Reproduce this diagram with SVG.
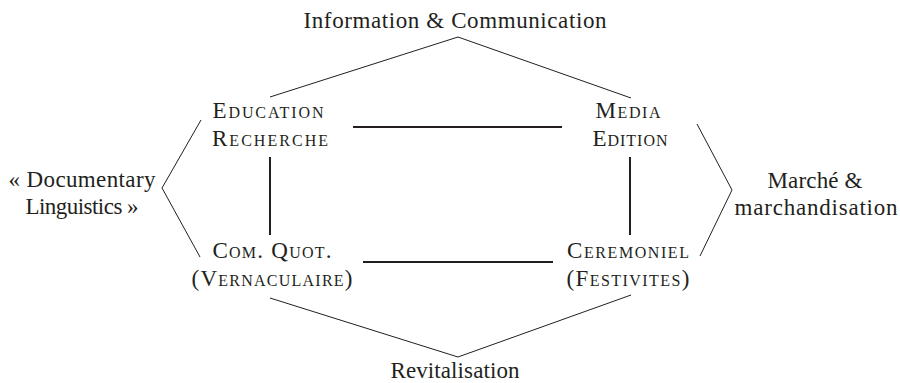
<svg xmlns="http://www.w3.org/2000/svg" width="900" height="383" viewBox="0 0 900 383">
<style>
text{font-family:"Liberation Serif","Times New Roman",serif;fill:#231f20;text-anchor:middle;font-size:23px}
.sc{font-variant:small-caps}
.thin{stroke:#231f20;stroke-width:1;fill:none}
.thick{stroke:#231f20;stroke-width:2;fill:none}
</style>
<rect width="900" height="383" fill="#fff"/>
<g id="connectors">
<polyline class="thin" points="270,97 458,37 631,98"/>
<polyline class="thin" points="270,298 458,357 631,295"/>
<polyline class="thin" points="201,120 162,188 200,257"/>
<polyline class="thin" points="697,124 732,190 700,256"/>
<line class="thick" x1="353" y1="127" x2="562" y2="127"/>
<line class="thick" x1="363" y1="262" x2="553" y2="262"/>
<line class="thick" x1="270" y1="157" x2="270" y2="235"/>
<line class="thick" x1="630" y1="157" x2="630" y2="235"/>
</g>
<g id="info"><text font-family="Liberation Serif" x="455" y="28" textLength="303" lengthAdjust="spacing">Information &amp; Communication</text></g>
<g id="revit"><text font-family="Liberation Serif" x="455" y="378" textLength="129" lengthAdjust="spacing">Revitalisation</text></g>
<g id="doc"><text font-family="Liberation Serif" x="82" y="187" textLength="147" lengthAdjust="spacing">« Documentary</text><text font-family="Liberation Serif" x="82" y="214" textLength="113" lengthAdjust="spacing">Linguistics »</text></g>
<g id="marche"><text font-family="Liberation Serif" x="815" y="188" textLength="95" lengthAdjust="spacing">Marché &amp;</text><text font-family="Liberation Serif" x="816" y="215" textLength="163" lengthAdjust="spacing">marchandisation</text></g>
<g id="education"><text class="sc" font-family="Liberation Serif" x="268" y="118" textLength="111" lengthAdjust="spacing">Education</text><text class="sc" font-family="Liberation Serif" x="270" y="146" textLength="116" lengthAdjust="spacing">Recherche</text></g>
<g id="media"><text class="sc" font-family="Liberation Serif" x="628" y="118" textLength="65" lengthAdjust="spacing">Media</text><text class="sc" font-family="Liberation Serif" x="630" y="146" textLength="75" lengthAdjust="spacing">Edition</text></g>
<g id="comquot"><text class="sc" font-family="Liberation Serif" x="272" y="258" textLength="119" lengthAdjust="spacing">Com. Quot.</text><text class="sc" font-family="Liberation Serif" x="272" y="286" textLength="161" lengthAdjust="spacing">(Vernaculaire)</text></g>
<g id="ceremoniel"><text class="sc" font-family="Liberation Serif" x="628" y="258" textLength="122" lengthAdjust="spacing">Ceremoniel</text><text class="sc" font-family="Liberation Serif" x="628" y="286" textLength="123" lengthAdjust="spacing">(Festivites)</text></g>
</svg>
